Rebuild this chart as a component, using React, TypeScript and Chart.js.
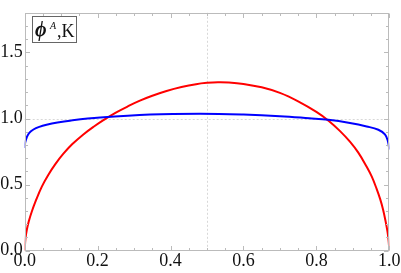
import React, { useEffect, useRef } from "react";
import { Chart, registerables } from "chart.js";

Chart.register(...registerables);

// Red curve
const redX = [0, 0.002, 0.006, 0.011, 0.02, 0.03, 0.047, 0.065, 0.084, 0.105, 0.13, 0.16, 0.19, 0.217, 0.25, 0.285, 0.316, 0.35, 0.389, 0.43, 0.47, 0.5, 0.53, 0.56, 0.6, 0.65, 0.7, 0.75, 0.8, 0.835, 0.865, 0.892, 0.915, 0.938, 0.952, 0.965, 0.975, 0.983, 0.99, 0.995, 0.998, 1.0];
const redY = [0.0, 0.09, 0.16, 0.22, 0.3, 0.375, 0.485, 0.575, 0.655, 0.73, 0.805, 0.878, 0.94, 0.99, 1.045, 1.095, 1.135, 1.172, 1.208, 1.238, 1.26, 1.27, 1.275, 1.273, 1.262, 1.236, 1.194, 1.13, 1.05, 0.98, 0.905, 0.825, 0.742, 0.635, 0.56, 0.47, 0.39, 0.31, 0.22, 0.145, 0.08, 0.0];

// Blue curve
const blueX = [0, 0.0015, 0.0055, 0.012, 0.024, 0.04, 0.06, 0.09, 0.124, 0.207, 0.344, 0.481, 0.6, 0.7, 0.78, 0.833, 0.892, 0.938, 0.97, 0.988, 0.996, 1.0];
const blueY = [0.777, 0.82, 0.856, 0.89, 0.917, 0.937, 0.953, 0.97, 0.984, 1.007, 1.03, 1.036, 1.03, 1.018, 1.002, 0.99, 0.966, 0.94, 0.915, 0.88, 0.83, 0.765];

const xTicks = [0, 0.2, 0.4, 0.6, 0.8, 1.0];
const yTicks = [0, 0.5, 1.0, 1.5];
const xMinorStep = 0.05;
const yMinorStep = 0.1;
const xGridAt = [0.5];
const yGridAt = [1.0];

const FONT = "'Liberation Serif', 'DejaVu Serif', serif";

const framePlugin = {
  id: "framePlugin",
  beforeDatasetsDraw(chart: any) {
    const { ctx, chartArea: a, scales } = chart;
    ctx.save();
    ctx.strokeStyle = "#d8d8d8";
    ctx.lineWidth = 1;
    ctx.setLineDash([2, 2]);
    xGridAt.forEach((v) => {
      const px = Math.round(scales.x.getPixelForValue(v)) + 0.5;
      ctx.beginPath();
      ctx.moveTo(px, a.top);
      ctx.lineTo(px, a.bottom);
      ctx.stroke();
    });
    yGridAt.forEach((v) => {
      const py = Math.round(scales.y.getPixelForValue(v)) + 0.5;
      ctx.beginPath();
      ctx.moveTo(a.left, py);
      ctx.lineTo(a.right, py);
      ctx.stroke();
    });
    ctx.restore();
  },
  afterDraw(chart: any) {
    const { ctx, chartArea: a, scales } = chart;
    ctx.save();
    ctx.strokeStyle = "#bbbbbb";
    ctx.lineWidth = 1;
    const L = Math.round(a.left) + 0.5, R = Math.round(a.right) - 0.5;
    const T = Math.round(a.top) + 0.5, B = Math.round(a.bottom) - 0.5;
    ctx.strokeRect(L, T, R - L, B - T);
    ctx.beginPath();
    const nx = Math.round(1 / xMinorStep);
    for (let i = 0; i <= nx; i++) {
      const v = i * xMinorStep;
      const major = xTicks.some((t) => Math.abs(t - v) < 1e-9);
      const len = major ? 4.5 : 2.5;
      const px = Math.round(scales.x.getPixelForValue(v)) + 0.5;
      ctx.moveTo(px, B);
      ctx.lineTo(px, B - len);
      ctx.moveTo(px, T);
      ctx.lineTo(px, T + len);
    }
    const ny = Math.round(1.8 / yMinorStep);
    for (let i = 0; i <= ny; i++) {
      const v = i * yMinorStep;
      const major = yTicks.some((t) => Math.abs(t - v) < 1e-9);
      const len = major ? 4.5 : 2.5;
      const py = Math.round(scales.y.getPixelForValue(v)) + 0.5;
      ctx.moveTo(L, py);
      ctx.lineTo(L + len, py);
      ctx.moveTo(R, py);
      ctx.lineTo(R - len, py);
    }
    ctx.stroke();

    // legend box
    ctx.fillStyle = "#ffffff";
    ctx.fillRect(32.5, 16.5, 44, 26);
    ctx.strokeStyle = "#666666";
    ctx.strokeRect(32.5, 16.5, 44, 26);
    ctx.fillStyle = "#111111";
    ctx.textBaseline = "alphabetic";
    ctx.textAlign = "left";
    ctx.font = `italic bold 20px ${FONT}`;
    ctx.fillText("\u03D5", 35, 36);
    ctx.font = `italic 10px ${FONT}`;
    ctx.fillText("A", 50, 28.5);
    ctx.font = `18px ${FONT}`;
    ctx.fillText(",K", 57, 37);
    ctx.restore();
  },
};

export default function App() {
  const ref = useRef<HTMLCanvasElement | null>(null);
  useEffect(() => {
    let chart: any = null;
    let cancelled = false;
    const make = () => {
      if (cancelled || !ref.current) return;
      chart = new Chart(ref.current, {
        type: "line",
        data: {
          datasets: [
            {
              data: blueX.map((x, i) => ({ x, y: blueY[i] })),
              borderColor: "#0000ff",
              borderWidth: 2,
              pointRadius: 0,
              tension: 0.4,
              fill: false,
            },
            {
              data: redX.map((x, i) => ({ x, y: redY[i] })),
              borderColor: "#ff0000",
              borderWidth: 2,
              pointRadius: 0,
              tension: 0.4,
              fill: false,
            },
          ],
        },
        options: {
          animation: false,
          responsive: false,
          maintainAspectRatio: false,
          layout: { padding: { top: 1, right: 11.7, left: 0, bottom: 0 } },
          plugins: { legend: { display: false }, tooltip: { enabled: false } },
          scales: {
            x: {
              type: "linear",
              min: 0,
              max: 1,
              afterBuildTicks: (s: any) => {
                s.ticks = xTicks.map((v) => ({ value: v }));
              },
              afterFit: (s: any) => {
                s.height = 22.3;
              },
              ticks: {
                callback: (v: any) => Number(v).toFixed(1),
                font: { family: FONT, size: 18 },
                color: "#111111",
                padding: 0,
                maxRotation: 0,
                autoSkip: false,
              },
              grid: { display: false, drawTicks: false },
              border: { display: false },
            },
            y: {
              type: "linear",
              min: 0,
              max: 1.8,
              afterBuildTicks: (s: any) => {
                s.ticks = yTicks.map((v) => ({ value: v }));
              },
              afterFit: (s: any) => {
                s.width = 24.7;
              },
              ticks: {
                callback: (v: any) => Number(v).toFixed(1),
                font: { family: FONT, size: 18 },
                color: "#111111",
                padding: 2,
                autoSkip: false,
              },
              grid: { display: false, drawTicks: false },
              border: { display: false },
            },
          },
        },
        plugins: [framePlugin],
      } as any);
    };
    const fonts: any = (document as any).fonts;
    if (fonts && fonts.load) {
      Promise.all([
        fonts.load("18px 'Liberation Serif'"),
        fonts.load("italic bold 20px 'Liberation Serif'"),
        fonts.load("italic 10px 'Liberation Serif'"),
      ])
        .catch(() => {})
        .then(make);
    } else {
      make();
    }
    return () => {
      cancelled = true;
      if (chart) chart.destroy();
    };
  }, []);
  return (
    <div style={{ position: "fixed", left: 0, top: 0, width: 401, height: 273, overflow: "hidden", background: "#fff" }}>
      <canvas ref={ref} width={401} height={273} style={{ display: "block", width: 401, height: 273 }} />
    </div>
  );
}
